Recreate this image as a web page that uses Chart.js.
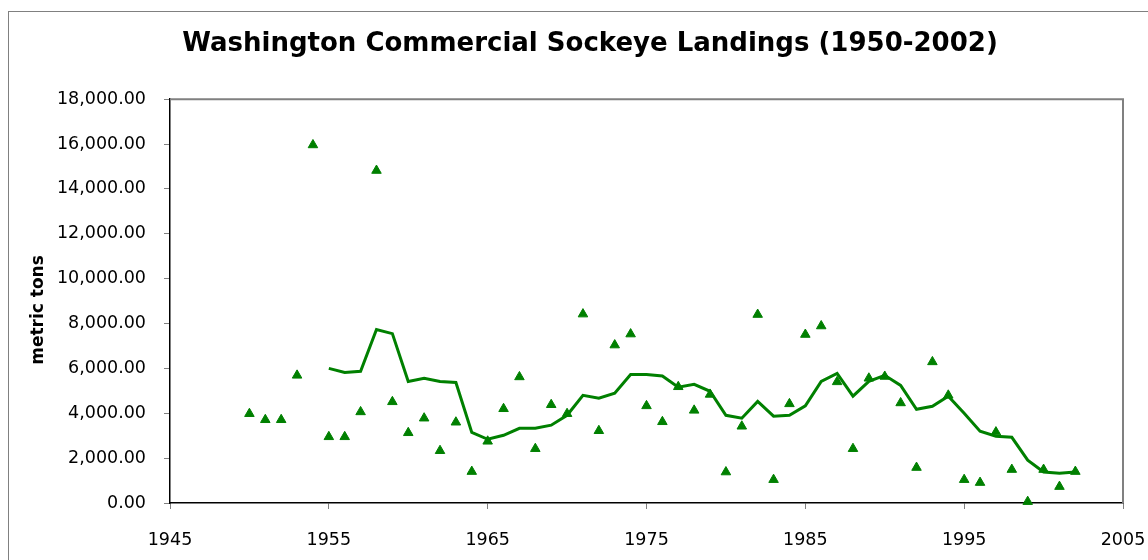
<!DOCTYPE html>
<html>
<head>
<meta charset="utf-8">
<script src="https://cdn.jsdelivr.net/npm/chart.js@4.4.1/dist/chart.umd.min.js"></script>
<style>
  body { margin: 0; background: #fff; overflow: hidden; }
  #wrap { position: relative; width: 1148px; height: 560px; }
  #frame { position: absolute; left: 8px; top: 11px; width: 1200px; height: 600px; border: 1px solid #808080; }
  #wrap canvas { position: absolute; left: 0; top: 0; }
</style>
</head>
<body>
<div id="wrap">
  <div id="frame"></div>
  <canvas id="sockeyeChart"></canvas>
</div>
<script>
// Annual landings (metric tons)
const years = [1950, 1951, 1952, 1953, 1954, 1955, 1956, 1957, 1958, 1959,
  1960, 1961, 1962, 1963, 1964, 1965, 1966, 1967, 1968, 1969,
  1970, 1971, 1972, 1973, 1974, 1975, 1976, 1977, 1978, 1979,
  1980, 1981, 1982, 1983, 1984, 1985, 1986, 1987, 1988, 1989,
  1990, 1991, 1992, 1993, 1994, 1995, 1996, 1997, 1998, 1999,
  2000, 2001, 2002];
const landings = [3980, 3710, 3710, 5690, 15960, 2950, 2950, 4060, 14820, 4510,
  3130, 3780, 2330, 3600, 1400, 2750, 4200, 5620, 2420, 4380,
  3980, 8420, 3220, 7040, 7530, 4330, 3620, 5180, 4130, 4840,
  1380, 3420, 8400, 1040, 4420, 7510, 7890, 5400, 2420, 5560,
  5640, 4460, 1580, 6290, 4800, 1040, 910, 3160, 1490, 60,
  1490, 730, 1400];

// Moving-average trend line, starts in 1955
const avgYears = [1955, 1956, 1957, 1958, 1959, 1960, 1961, 1962, 1963, 1964,
  1965, 1966, 1967, 1968, 1969, 1970, 1971, 1972, 1973, 1974,
  1975, 1976, 1977, 1978, 1979, 1980, 1981, 1982, 1983, 1984,
  1985, 1986, 1987, 1988, 1989, 1990, 1991, 1992, 1993, 1994,
  1995, 1996, 1997, 1998, 1999, 2000, 2001, 2002];
const movingAvg = [6000, 5820, 5870, 7730, 7550, 5420, 5560, 5420, 5370, 3150,
  2840, 3020, 3330, 3330, 3470, 3910, 4800, 4670, 4890, 5730,
  5730, 5660, 5160, 5290, 4980, 3910, 3780, 4530, 3870, 3910,
  4330, 5420, 5780, 4760, 5420, 5690, 5240, 4180, 4310, 4760,
  4000, 3200, 2980, 2930, 1910, 1380, 1330, 1380];

const xTicks = [1945, 1955, 1965, 1975, 1985, 1995, 2005];

const GREEN = "#008000";
const FONT = "'DejaVu Sans', Verdana, sans-serif";

// Gray border on the top and right of the plot area
const plotFrame = {
  id: "plotFrame",
  beforeDatasetsDraw(chart) {
    const { ctx, chartArea: a } = chart;
    ctx.save();
    ctx.strokeStyle = "#808080";
    ctx.lineWidth = 2;
    ctx.beginPath();
    ctx.moveTo(a.left, a.top);
    ctx.lineTo(a.right, a.top);
    ctx.lineTo(a.right, a.bottom);
    ctx.stroke();
    ctx.restore();
  },
};

const ctx = document.getElementById("sockeyeChart").getContext("2d");
new Chart(ctx, {
  type: "scatter",
  data: {
    datasets: [
      {
        label: "Landings",
        data: years.map((y, i) => ({ x: y, y: landings[i] })),
        pointStyle: "triangle",
        pointRadius: 5.5,
        backgroundColor: GREEN,
        borderColor: GREEN,
        borderWidth: 1,
        clip: false,
        order: 1,
      },
      {
        label: "Moving average",
        type: "line",
        data: avgYears.map((y, i) => ({ x: y, y: movingAvg[i] })),
        borderColor: GREEN,
        borderWidth: 3,
        pointRadius: 0,
        fill: false,
        tension: 0,
        clip: false,
        order: 2,
      },
    ],
  },
  options: {
    responsive: true,
    maintainAspectRatio: false,
    animation: false,
    layout: { padding: { left: 57, right: 25, top: 12, bottom: 0 } },
    plugins: {
      legend: { display: false },
      tooltip: { enabled: false },
      title: {
        display: true,
        text: "Washington Commercial Sockeye Landings (1950-2002)",
        color: "#000",
        font: { family: FONT, size: 26, weight: "bold" },
        padding: { top: 17, bottom: 39 },
      },
    },
    scales: {
      x: {
        type: "linear",
        min: 1945,
        max: 2005,
        afterBuildTicks: (scale) => {
          scale.ticks = xTicks.map((v) => ({ value: v }));
        },
        afterFit: (scale) => {
          scale.height = 57;
          // keep the plot edge where the reference has it
          scale.paddingLeft = 0;
          scale.paddingRight = 0;
        },
        ticks: {
          color: "#000",
          font: { family: FONT, size: 17.5 },
          padding: 21,
          maxRotation: 0,
          callback: (v) => String(v),
        },
        grid: { drawOnChartArea: false, drawTicks: true, tickLength: 6, tickColor: "#808080" },
        border: { display: true, color: "#000", width: 1.5 },
      },
      y: {
        min: 0,
        max: 18000,
        afterFit: (scale) => {
          scale.width = 113;
        },
        ticks: {
          stepSize: 2000,
          color: "#000",
          font: { family: FONT, size: 17.5 },
          padding: 18,
          callback: (v) =>
            v.toLocaleString("en-US", { minimumFractionDigits: 2, maximumFractionDigits: 2 }),
        },
        grid: { drawOnChartArea: false, drawTicks: true, tickLength: 6, tickColor: "#808080" },
        border: { display: true, color: "#000", width: 1.5 },
        title: {
          display: true,
          text: "metric tons   ",
          color: "#000",
          font: { family: FONT, size: 17, weight: "bold" },
          padding: { top: -29, bottom: 0 },
        },
      },
    },
  },
  plugins: [plotFrame],
});
</script>
</body>
</html>
